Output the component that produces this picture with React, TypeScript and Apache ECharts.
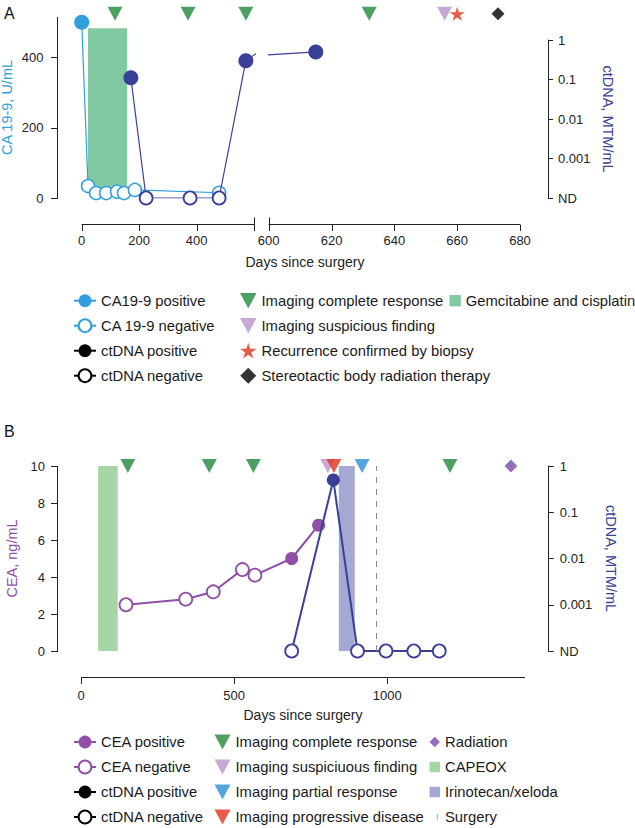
import React, { useEffect, useRef, useState } from 'react';
import * as echarts from 'echarts';

// ---------------- Panel A data ----------------
const caDays = [0, 22, 50, 85, 123, 147, 185, 478];
const caValues = [500, 34, 14, 14, 18, 14, 23, 15];
const caPositive = [true, false, false, false, false, false, false, false];

const ctADays = [171, 224, 377, 478, 571, 615];
const ctAValues: (number | null)[] = [0.11, null, null, null, 0.3, 0.5]; // null = not detected (ND)

const gemcitabineDays = [22, 158];
const gemcitabineRange = [20, 483];

const aCompleteResponseDays = [116, 370, 571, 632];
const aSuspiciousDays = [656];
const aRecurrenceDays = [660];
const aSbrtDays = [673];
const aMarkerLevel = 524;

const aBreakDay = 600;
const aEndDay = 680;
const aLeftDayTicks = [0, 200, 400];
const aRightDayTicks = [600, 620, 640, 660, 680];
const caMax = 515;
const caTicks = [0, 200, 400];

// ---------------- Panel B data ----------------
const ceaDays = [147, 342, 432, 527, 568, 688, 776];
const ceaValues = [2.5, 2.8, 3.2, 4.4, 4.1, 5.0, 6.8];
const ceaPositive = [false, false, false, false, false, true, true];

const ctBDays = [688, 824, 903, 996, 1087, 1170];
const ctBValues: (number | null)[] = [null, 0.5, null, null, null, null];

const capeoxDays = [56, 120];
const irinotecanDays = [842, 894];
const treatmentRangeB = [0, 10];
const surgeryDay = 965;

const bCompleteResponseDays = [153, 419, 563, 1205];
const bSuspiciousDays = [806];
const bProgressiveDays = [826];
const bPartialDays = [918];
const bRadiationDays = [1404];
const bMarkerLevel = 10;

const bMaxDay = 1450;
const bDayTicks = [0, 500, 1000];
const ceaMax = 10;
const ceaTicks = [0, 2, 4, 6, 8, 10];

const ND = 1e-4;

// ---------------- styling ----------------
const FONT = '"Liberation Sans", Arial, Helvetica, sans-serif';
const INK = '#222';
const CA_BLUE = '#2f9fdd';
const CT_BLUE = '#3a3f98';
const CEA_PURPLE = '#8f4fa7';
const GREEN_TRI = '#1f8a3b';
const LIGHT_PURPLE = '#b993cb';
const RED = '#e2321e';
const BLUE_TRI = '#2b90d6';
const RAD_PURPLE = '#7a4aa6';
const GEM_GREEN = '#80c9a3';
const CAPEOX_GREEN = '#a7d6a6';
const IRINO = '#a5a8d3';

const TRI = 'path://M0,0L15,0L7.5,14Z';
const STAR = 'path://M50,0L61.2,34.5L97.6,34.5L68.2,55.9L79.4,90.5L50,69.1L20.6,90.5L31.8,55.9L2.4,34.5L38.8,34.5Z';
const DIAMOND = 'path://M5,0L10,5L5,10L0,5Z';
const SQUARE = 'path://M0,0L10,0L10,10L0,10Z';
const TICKMARK = 'path://M0,0L0.01,0L0,0.01Z M7,5L8,5L8,11.5L7,11.5Z M10,16L10.01,16L10,15.99Z';

const A_L_LEFT = 81.7, A_L_W = 172.5, A_R_LEFT = 268.7, A_R_W = 251.3;
const A_TOP = 17, A_H = 181, A_CT_TOP = 40, A_CT_H = 158;
const B_LEFT = 81, B_W = 444, B_TOP = 466, B_H = 185;
const A_Y_OFFSET = A_L_LEFT - 57;
const B_Y_OFFSET = B_LEFT - 57;
const X_OFFSET = 26;
const TICK_LEN = 6.5;

const crisp = (v: number) => Math.round(v) + 0.5;

function pt(x: number, y: number, filled: boolean, color: string, size: number, bw: number) {
  return {
    value: [x, y],
    symbolSize: size,
    itemStyle: filled
      ? { color, borderColor: color, borderWidth: 0 }
      : { color: '#fff', borderColor: color, borderWidth: bw },
  };
}

function rectSeries(name: string, xi: number, yi: number, days: number[], range: number[], color: string) {
  return {
    type: 'custom', name, xAxisIndex: xi, yAxisIndex: yi, z: 1, silent: true,
    itemStyle: { color },
    data: [[days[0], days[1], range[1], range[0]]],
    encode: { x: [0, 1], y: [2, 3] },
    renderItem: (_p: any, api: any) => {
      const p1 = api.coord([api.value(0), api.value(2)]);
      const p2 = api.coord([api.value(1), api.value(3)]);
      return {
        type: 'rect',
        shape: { x: p1[0], y: p1[1], width: p2[0] - p1[0], height: p2[1] - p1[1] },
        style: { fill: color },
      };
    },
  };
}

function markerSeries(name: string, days: number[], level: number, symbol: string, size: number[], color: string, xi: number, yi: number) {
  return {
    type: 'scatter', name, xAxisIndex: xi, yAxisIndex: yi, z: 5, clip: false, silent: true,
    symbol, symbolSize: size, itemStyle: { color },
    data: days.map((d) => [d, level]),
  };
}

function splitMarkers(name: string, days: number[], symbol: string, size: number[], color: string) {
  const left = days.filter((d) => d <= aBreakDay);
  const right = days.filter((d) => d > aBreakDay);
  const out: any[] = [];
  if (left.length) out.push(markerSeries(name, left, aMarkerLevel, symbol, size, color, 0, 0));
  if (right.length) out.push(markerSeries(name, right, aMarkerLevel, symbol, size, color, 1, 1));
  return out;
}

function legendLine(name: string, color: string, filled: boolean) {
  return {
    type: 'line', name, xAxisIndex: 4, yAxisIndex: 4, data: [],
    symbol: 'circle', symbolSize: 13,
    itemStyle: filled ? { color, borderColor: color, borderWidth: 0 } : { color: '#fff', borderColor: color, borderWidth: 1.6 },
    lineStyle: { color, width: 1.6 },
  };
}

// ---- axis line/tick geometry, computed from the chart's own scales ----
type Seg = [number, number, number, number];
type ToPx = (x: number, y: number) => number[];

function yAxisSegs(toPx: ToPx, xAtZero: number, offset: number, yMax: number, ticks: number[]): Seg[] {
  const x = crisp(toPx(xAtZero, 0)[0] - offset);
  const segs: Seg[] = [[x, toPx(xAtZero, yMax)[1], x, toPx(xAtZero, 0)[1]]];
  ticks.forEach((v) => {
    const y = crisp(toPx(xAtZero, v)[1]);
    segs.push([x - TICK_LEN, y, x, y]);
  });
  return segs;
}

function xAxisSegs(toPx: ToPx, xMin: number, xMax: number, ticks: number[], breakAt: 'start' | 'end' | null): Seg[] {
  const y = crisp(toPx(xMin, 0)[1] + X_OFFSET);
  const x0 = toPx(xMin, 0)[0];
  const x1 = toPx(xMax, 0)[0];
  const segs: Seg[] = [[x0, y, x1, y]];
  ticks.forEach((v) => {
    const x = crisp(toPx(v, 0)[0]);
    segs.push([x, y, x, y + 6]);
  });
  if (breakAt === 'end') segs.push([crisp(x1), y - 7, crisp(x1), y + 6]);
  if (breakAt === 'start') segs.push([crisp(x0), y - 7, crisp(x0), y]);
  return segs;
}

const axisSpecs = [
  { xi: 0, yi: 0, segs: (t: ToPx) => [...yAxisSegs(t, 0, A_Y_OFFSET, caMax, caTicks), ...xAxisSegs(t, 0, aBreakDay, aLeftDayTicks, 'end')] },
  { xi: 1, yi: 1, segs: (t: ToPx) => xAxisSegs(t, aBreakDay, aEndDay, aRightDayTicks, 'start') },
  { xi: 4, yi: 4, segs: (t: ToPx) => [...yAxisSegs(t, 0, B_Y_OFFSET, ceaMax, ceaTicks), ...xAxisSegs(t, 0, bMaxDay, bDayTicks, null)] },
];

function axisCustomSeries(spec: any) {
  return {
    type: 'custom', name: 'axis-' + spec.xi, xAxisIndex: spec.xi, yAxisIndex: spec.yi, z: 10, silent: true, clip: false,
    data: [[0, 0]],
    renderItem: (_p: any, api: any) => {
      const toPx: ToPx = (x, y) => api.coord([x, y]);
      return {
        type: 'group',
        children: spec.segs(toPx).map((s: Seg) => ({
          type: 'line', shape: { x1: s[0], y1: s[1], x2: s[2], y2: s[3] }, style: { stroke: INK, lineWidth: 1 },
        })),
      };
    },
  };
}

const noLine = () => ({ show: false, onZero: false });
const mkLine = () => ({ show: true, onZero: false, lineStyle: { color: INK, width: 1 } });
const labelStyle = () => ({ color: INK, fontSize: 13, fontFamily: FONT });
const plainNumber = (v: number) => String(v);
const logFormatter = (v: number) => (v < 5e-4 ? 'ND' : String(Number(v.toPrecision(3))));

function hiddenAxis(gridIndex: number, type: string, min: number, max: number) {
  return { gridIndex, type, min, max, show: false, axisLine: { onZero: false }, splitLine: { show: false } };
}

function buildOption() {
  const caData = caDays.map((d, i) => pt(d, caValues[i], caPositive[i], CA_BLUE, caPositive[i] ? 15 : 13, 1.5));
  const ctAData = ctADays.map((d, i) => {
    const v = ctAValues[i];
    return pt(d, v == null ? ND : v, v != null, CT_BLUE, v != null ? 15 : 13, 1.8);
  });
  const ceaData = ceaDays.map((d, i) => pt(d, ceaValues[i], ceaPositive[i], CEA_PURPLE, 13, 1.8));
  const ctBData = ctBDays.map((d, i) => {
    const v = ctBValues[i];
    return pt(d, v == null ? ND : v, v != null, CT_BLUE, 13, 1.8);
  });

  const series: any[] = [
    rectSeries('Gemcitabine and cisplatin', 0, 0, gemcitabineDays, gemcitabineRange, GEM_GREEN),
    {
      type: 'line', name: 'CA 19-9 series', xAxisIndex: 0, yAxisIndex: 0, z: 2, silent: true,
      symbol: 'circle', lineStyle: { color: CA_BLUE, width: 1.2 }, itemStyle: { color: CA_BLUE }, data: caData,
    },
    {
      type: 'line', name: 'ctDNA A left', xAxisIndex: 2, yAxisIndex: 2, z: 3, silent: true, clip: true,
      symbol: 'circle', lineStyle: { color: CT_BLUE, width: 1.2 }, itemStyle: { color: CT_BLUE }, data: ctAData,
    },
    {
      type: 'line', name: 'ctDNA A right', xAxisIndex: 3, yAxisIndex: 3, z: 3, silent: true, clip: true,
      symbol: 'circle', lineStyle: { color: CT_BLUE, width: 1.2 }, itemStyle: { color: CT_BLUE }, data: ctAData,
    },
    ...splitMarkers('Imaging complete response', aCompleteResponseDays, TRI, [15, 14], GREEN_TRI),
    ...splitMarkers('Imaging suspicious finding', aSuspiciousDays, TRI, [15, 14], LIGHT_PURPLE),
    ...splitMarkers('Recurrence confirmed by biopsy', aRecurrenceDays, STAR, [15, 14], RED),
    ...splitMarkers('Stereotactic body radiation therapy', aSbrtDays, DIAMOND, [13, 13], '#000'),

    rectSeries('CAPEOX', 4, 4, capeoxDays, treatmentRangeB, CAPEOX_GREEN),
    rectSeries('Irinotecan/xeloda', 4, 4, irinotecanDays, treatmentRangeB, IRINO),
    {
      type: 'line', name: 'Surgery', xAxisIndex: 4, yAxisIndex: 4, data: [], z: 1,
      itemStyle: { color: '#8a8a8a', borderWidth: 0 }, lineStyle: { color: '#8a8a8a' },
      markLine: {
        silent: true, symbol: 'none', label: { show: false },
        lineStyle: { color: '#8a8a8a', width: 1, type: [6, 6] },
        data: [{ xAxis: surgeryDay }],
      },
    },
    {
      type: 'line', name: 'CEA series', xAxisIndex: 4, yAxisIndex: 4, z: 2, silent: true,
      symbol: 'circle', lineStyle: { color: CEA_PURPLE, width: 2 }, itemStyle: { color: CEA_PURPLE }, data: ceaData,
    },
    {
      type: 'line', name: 'ctDNA B', xAxisIndex: 4, yAxisIndex: 5, z: 3, silent: true, clip: false,
      symbol: 'circle', lineStyle: { color: CT_BLUE, width: 2 }, itemStyle: { color: CT_BLUE }, data: ctBData,
    },
    markerSeries('Imaging complete response', bCompleteResponseDays, bMarkerLevel, TRI, [15, 14], GREEN_TRI, 4, 4),
    markerSeries('Imaging suspiciuous finding', bSuspiciousDays, bMarkerLevel, TRI, [15, 14], LIGHT_PURPLE, 4, 4),
    markerSeries('Imaging progressive disease', bProgressiveDays, bMarkerLevel, TRI, [15, 14], RED, 4, 4),
    markerSeries('Imaging partial response', bPartialDays, bMarkerLevel, TRI, [15, 14], BLUE_TRI, 4, 4),
    markerSeries('Radiation', bRadiationDays, bMarkerLevel, DIAMOND, [13, 13], RAD_PURPLE, 4, 4),

    legendLine('CA19-9 positive', CA_BLUE, true),
    legendLine('CA 19-9 negative', CA_BLUE, false),
    legendLine('ctDNA positive', '#000', true),
    legendLine('ctDNA negative', '#000', false),
    legendLine('CEA positive', CEA_PURPLE, true),
    legendLine('CEA negative', CEA_PURPLE, false),

    ...axisSpecs.map(axisCustomSeries),
  ];

  const legendBase = {
    orient: 'vertical', padding: 0, itemGap: 9, itemHeight: 16, selectedMode: false,
    textStyle: { fontSize: 14.8, color: '#1a1a1a', fontFamily: FONT, lineHeight: 16 },
  };

  return {
    animation: false,
    grid: [
      { left: A_L_LEFT, top: A_TOP, width: A_L_W, height: A_H, outerBoundsMode: 'none' },
      { left: A_R_LEFT, top: A_TOP, width: A_R_W, height: A_H, outerBoundsMode: 'none' },
      { left: A_L_LEFT, top: A_CT_TOP, width: A_L_W, height: A_CT_H, outerBoundsMode: 'none' },
      { left: A_R_LEFT, top: A_CT_TOP, width: A_R_W, height: A_CT_H, outerBoundsMode: 'none' },
      { left: B_LEFT, top: B_TOP, width: B_W, height: B_H, outerBoundsMode: 'none' },
    ],
    xAxis: [
      {
        gridIndex: 0, type: 'value', min: 0, max: aBreakDay, offset: X_OFFSET,
        axisLine: noLine(), axisTick: { show: false },
        axisLabel: { ...labelStyle(), margin: 10, customValues: aLeftDayTicks, formatter: plainNumber },
        splitLine: { show: false },
      },
      {
        gridIndex: 1, type: 'value', min: aBreakDay, max: aEndDay, interval: 20, offset: X_OFFSET,
        axisLine: noLine(), axisTick: { show: false },
        axisLabel: { ...labelStyle(), margin: 10, customValues: aRightDayTicks, formatter: plainNumber },
        splitLine: { show: false },
      },
      hiddenAxis(2, 'value', 0, aBreakDay),
      hiddenAxis(3, 'value', aBreakDay, aEndDay),
      {
        gridIndex: 4, type: 'value', min: 0, max: bMaxDay, offset: X_OFFSET,
        axisLine: noLine(), axisTick: { show: false },
        axisLabel: { ...labelStyle(), margin: 12, customValues: bDayTicks, formatter: plainNumber },
        splitLine: { show: false },
        name: 'Days since surgery', nameLocation: 'middle', nameGap: 31,
        nameTextStyle: { color: INK, fontSize: 14, fontFamily: FONT },
      },
    ],
    yAxis: [
      {
        gridIndex: 0, type: 'value', min: 0, max: caMax, position: 'left', offset: A_Y_OFFSET,
        axisLine: noLine(), axisTick: { show: false },
        axisLabel: { ...labelStyle(), margin: 13.5, customValues: caTicks, formatter: plainNumber },
        splitLine: { show: false },
        name: 'CA 19-9, U/mL', nameLocation: 'middle', nameGap: 42.5,
        nameTextStyle: { color: CA_BLUE, fontSize: 14.5, fontFamily: FONT },
      },
      hiddenAxis(1, 'value', 0, caMax),
      { ...hiddenAxis(2, 'log', ND, 1), logBase: 10 },
      {
        gridIndex: 3, type: 'log', logBase: 10, min: ND, max: 1, position: 'right', offset: 548 - (A_R_LEFT + A_R_W),
        axisLine: mkLine(),
        axisTick: { show: true, length: 5, lineStyle: { color: INK } },
        axisLabel: { ...labelStyle(), margin: 10, formatter: logFormatter },
        splitLine: { show: false },
        name: 'ctDNA, MTM/mL', nameLocation: 'middle', nameRotate: -90, nameGap: 52,
        nameTextStyle: { color: CT_BLUE, fontSize: 14.5, fontFamily: FONT },
      },
      {
        gridIndex: 4, type: 'value', min: 0, max: ceaMax, interval: 2, position: 'left', offset: B_Y_OFFSET,
        axisLine: noLine(), axisTick: { show: false },
        axisLabel: { ...labelStyle(), margin: 12, customValues: ceaTicks, formatter: plainNumber },
        splitLine: { show: false },
        name: 'CEA, ng/mL', nameLocation: 'middle', nameGap: 34,
        nameTextStyle: { color: CEA_PURPLE, fontSize: 14.5, fontFamily: FONT },
      },
      {
        gridIndex: 4, type: 'log', logBase: 10, min: ND, max: 1, position: 'right', offset: 548.3 - (B_LEFT + B_W),
        axisLine: mkLine(),
        axisTick: { show: true, length: 5.5, lineStyle: { color: INK } },
        axisLabel: { ...labelStyle(), margin: 11.5, formatter: logFormatter },
        splitLine: { show: false },
        name: 'ctDNA, MTM/mL', nameLocation: 'middle', nameRotate: -90, nameGap: 54,
        nameTextStyle: { color: CT_BLUE, fontSize: 14.5, fontFamily: FONT },
      },
    ],
    legend: [
      { ...legendBase, left: 73, top: 292.7, itemWidth: 22, data: ['CA19-9 positive', 'CA 19-9 negative', 'ctDNA positive', 'ctDNA negative'] },
      {
        ...legendBase, left: 240, top: 292.7, itemWidth: 16.5,
        data: ['Imaging complete response', 'Imaging suspicious finding', 'Recurrence confirmed by biopsy', 'Stereotactic body radiation therapy'],
      },
      {
        ...legendBase, left: 449.5, top: 292.7, itemWidth: 11.3,
        data: [{ name: 'Gemcitabine and cisplatin', icon: SQUARE, itemStyle: { color: GEM_GREEN } }],
      },
      { ...legendBase, left: 73, top: 734, itemWidth: 22, data: ['CEA positive', 'CEA negative', 'ctDNA positive', 'ctDNA negative'] },
      {
        ...legendBase, left: 214.5, top: 734, itemWidth: 16,
        data: ['Imaging complete response', 'Imaging suspiciuous finding', 'Imaging partial response', 'Imaging progressive disease'],
      },
      {
        ...legendBase, left: 429.5, top: 734, itemWidth: 10.5,
        data: [
          { name: 'Radiation', icon: DIAMOND, itemStyle: { color: RAD_PURPLE } },
          { name: 'CAPEOX', icon: SQUARE, itemStyle: { color: CAPEOX_GREEN } },
          { name: 'Irinotecan/xeloda', icon: SQUARE, itemStyle: { color: IRINO } },
          { name: 'Surgery', icon: TICKMARK, itemStyle: { color: '#aaa', borderWidth: 0 } },
        ],
      },
    ],
    graphic: [
      { type: 'text', x: 4, y: 5, style: { text: 'A', fontSize: 16, fontFamily: FONT, fill: '#111' } },
      { type: 'text', x: 4, y: 423.5, style: { text: 'B', fontSize: 16, fontFamily: FONT, fill: '#111' } },
      {
        type: 'text', x: 305, y: 262,
        style: { text: 'Days since surgery', fontSize: 14, fontFamily: FONT, fill: INK, align: 'center', verticalAlign: 'middle' },
      },
    ],
    series,
  };
}

export default function App() {
  const ref = useRef<HTMLDivElement>(null);
  const [segs, setSegs] = useState<Seg[]>([]);
  useEffect(() => {
    if (!ref.current) return;
    const chart = echarts.init(ref.current, null, { renderer: 'svg' });
    chart.setOption(buildOption() as any);
    try {
      const all: Seg[] = [];
      axisSpecs.forEach((spec) => {
        const toPx: ToPx = (x, y) => chart.convertToPixel({ xAxisIndex: spec.xi, yAxisIndex: spec.yi }, [x, y]) as number[];
        spec.segs(toPx).forEach((s: Seg) => {
          if (s.every((v) => Number.isFinite(v))) all.push(s);
        });
      });
      setSegs(all);
    } catch (e) {
      setSegs([]);
    }
    return () => chart.dispose();
  }, []);
  return (
    <div style={{ position: 'absolute', left: 0, top: 0, width: 635, height: 828 }}>
      <div ref={ref} style={{ position: 'absolute', left: 0, top: 0, width: 635, height: 828 }} />
      <svg
        width={635}
        height={828}
        style={{ position: 'absolute', left: 0, top: 0, pointerEvents: 'none', zIndex: 5 }}
      >
        {segs.map((s, i) => (
          <line key={i} x1={s[0]} y1={s[1]} x2={s[2]} y2={s[3]} stroke={INK} strokeWidth={1} shapeRendering="crispEdges" />
        ))}
      </svg>
    </div>
  );
}
